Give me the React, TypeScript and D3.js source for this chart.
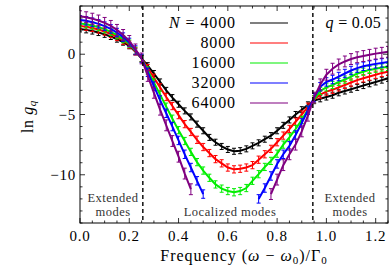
import React from "react";
import * as d3 from "d3";

// sample frequencies (ω − ω0)/Γ0
const freq = [
  0, 0.025, 0.05, 0.075, 0.1, 0.125, 0.15, 0.175, 0.2, 0.225, 0.25, 0.275, 0.3,
  0.325, 0.35, 0.375, 0.4, 0.425, 0.45, 0.475, 0.5, 0.525, 0.55, 0.575, 0.6,
  0.625, 0.65, 0.675, 0.7, 0.725, 0.75, 0.775, 0.8, 0.825, 0.85, 0.875, 0.9,
  0.925, 0.95, 0.975, 1.0, 1.025, 1.05, 1.075, 1.1, 1.125, 1.15, 1.175, 1.2,
  1.225, 1.25,
];

const lnG4000 = [
  2.1, 2.02, 1.92, 1.8, 1.65, 1.47, 1.25, 1.0, 0.7, 0.2, -0.35, -0.95, -1.6,
  -2.3, -3.0, -3.6, -4.15, -4.7, -5.2, -5.8, -6.35, -6.9, -7.3, -7.65, -7.9,
  -8.05, -8.0, -7.85, -7.6, -7.35, -7.05, -6.75, -6.35, -5.9, -5.45, -5.0, -4.6,
  -4.2, -3.85, -3.7, -3.55, -3.4, -3.2, -3.05, -2.9, -2.75, -2.6, -2.45, -2.3,
  -2.15, -2.0,
];
const lnG8000 = [
  2.35, 2.28, 2.18, 2.05, 1.88, 1.68, 1.43, 1.12, 0.8, 0.25, -0.35, -1.15,
  -1.95, -2.75, -3.55, -4.3, -5.05, -5.8, -6.45, -7.1, -7.7, -8.2, -8.7, -9.05,
  -9.4, -9.55, -9.5, -9.4, -9.2, -8.75, -8.3, -7.85, -7.3, -6.75, -6.2, -5.6,
  -5.0, -4.35, -3.75, -3.35, -3.1, -2.95, -2.75, -2.55, -2.35, -2.15, -2.0,
  -1.85, -1.7, -1.55, -1.45,
];
const lnG16000 = [
  2.55, 2.48, 2.38, 2.25, 2.07, 1.85, 1.58, 1.25, 0.88, 0.3, -0.35, -1.35,
  -2.35, -3.35, -4.35, -5.35, -6.3, -7.2, -8.1, -8.95, -9.65, -10.25, -10.8,
  -11.15, -11.35, -11.45, -11.35, -11.1, -10.5, -9.95, -9.35, -8.85, -8.25,
  -7.5, -6.9, -6.2, -5.45, -4.6, -3.75, -3.05, -2.75, -2.55, -2.3, -2.1, -1.85,
  -1.6, -1.45, -1.3, -1.2, -1.1, -1.05,
];
const lnG32000 = [
  2.85, 2.77, 2.66, 2.52, 2.33, 2.1, 1.8, 1.42, 0.98, 0.35, -0.35, -1.5, -2.65,
  -3.8, -4.9, -6.0, -7.15, -8.3, -9.4, -10.5, -11.6, null, null, null, null,
  null, null, null, null, -12.0, -11.1, -10.1, -9.1, -8.3, -7.6, -6.7, -5.7,
  -4.65, -3.6, -2.7, -2.3, -2.1, -1.85, -1.6, -1.35, -1.15, -1.0, -0.9, -0.8,
  -0.72, -0.65,
];
const lnG64000 = [
  3.15, 3.07, 2.95, 2.8, 2.6, 2.35, 2.02, 1.6, 1.1, 0.4, -0.35, -1.8, -3.2,
  -4.6, -5.9, -7.2, -8.5, -9.9, -11.2, null, null, null, null, null, null, null,
  null, null, null, null, null, -11.6, -10.4, -9.2, -8.3, -7.5, -6.4, -5.1,
  -3.6, -2.5, -1.7, -1.2, -0.85, -0.6, -0.4, -0.25, -0.15, -0.05, 0.05, 0.12,
  0.2,
];

const sizes = ["4000", "8000", "16000", "32000", "64000"];
const errors = [0.25, 0.3, 0.3, 0.35, 0.45];
const colors = ["#000000", "#ff0000", "#00ee00", "#0000ff", "#800080"];
const allSeries = [lnG4000, lnG8000, lnG16000, lnG32000, lnG64000];

const xTicks = [0, 0.2, 0.4, 0.6, 0.8, 1.0, 1.2];
const yTicks = [-10, -5, 0];
const boundaries = [0.255, 0.945];

const W = 390;
const H = 276;
const font = "'Liberation Serif', 'DejaVu Serif', serif";

export default function App() {
  const x = d3.scaleLinear().domain([0, 1.25]).range([80, 388]);
  const y = d3.scaleLinear().domain([-14, 4]).range([223, 6]);
  const [x0, x1] = x.range();
  const [y0, y1] = [y(4), y(-14)];

  const line = d3
    .line<number | null>()
    .defined((d) => d != null)
    .x((_, i) => x(freq[i]))
    .y((d) => y(d as number));

  const xMinor = d3.range(0, 1.2501, 0.05);
  const yMinor = d3.range(-14, 4.01, 1);
  const fx = d3.format(".1f");
  const fy = d3.format("d");

  return (
    <svg
      width={W}
      height={H}
      style={{ position: "absolute", left: 0, top: 0, background: "#fff" }}
      fontFamily={font}
    >
      <defs>
        <clipPath id="plot">
          <rect x={x0} y={y0} width={x1 - x0} height={y1 - y0} />
        </clipPath>
      </defs>

      <g clipPath="url(#plot)">
        {allSeries.map((vals, s) => (
          <g key={s}>
            <path
              d={line(vals) || ""}
              fill="none"
              stroke={colors[s]}
              strokeWidth={2}
            />
            {vals.map((v, i) =>
              v == null ? null : (
                <g key={i} stroke={colors[s]} strokeWidth={1}>
                  <line
                    x1={x(freq[i])}
                    x2={x(freq[i])}
                    y1={y(v - errors[s])}
                    y2={y(v + errors[s])}
                  />
                  <line
                    x1={x(freq[i]) - 2}
                    x2={x(freq[i]) + 2}
                    y1={y(v - errors[s])}
                    y2={y(v - errors[s])}
                  />
                  <line
                    x1={x(freq[i]) - 2}
                    x2={x(freq[i]) + 2}
                    y1={y(v + errors[s])}
                    y2={y(v + errors[s])}
                  />
                </g>
              )
            )}
          </g>
        ))}
      </g>

      {boundaries.map((b) => (
        <line
          key={b}
          x1={x(b)}
          x2={x(b)}
          y1={y0}
          y2={y1}
          stroke="#000"
          strokeWidth={1.4}
          strokeDasharray="4,3"
        />
      ))}

      {/* frame */}
      <rect
        x={x0}
        y={y0}
        width={x1 - x0}
        height={y1 - y0}
        fill="none"
        stroke="#000"
        strokeWidth={1}
      />

      {/* ticks */}
      <g stroke="#000" strokeWidth={0.8}>
        {xMinor.map((t) => {
          const major = xTicks.some((m) => Math.abs(m - t) < 1e-6);
          const len = major ? 5 : 2.5;
          return (
            <g key={"x" + t}>
              <line x1={x(t)} x2={x(t)} y1={y1} y2={y1 - len} />
              <line x1={x(t)} x2={x(t)} y1={y0} y2={y0 + len} />
            </g>
          );
        })}
        {yMinor.map((t) => {
          const major = t % 5 === 0;
          const len = major ? 5 : 2.5;
          return (
            <g key={"y" + t}>
              <line x1={x0} x2={x0 + len} y1={y(t)} y2={y(t)} />
              <line x1={x1} x2={x1 - len} y1={y(t)} y2={y(t)} />
            </g>
          );
        })}
      </g>

      {/* tick labels */}
      <g fontSize={15} fill="#000" letterSpacing={0.8}>
        {xTicks.map((t) => (
          <text key={t} x={x(t)} y={y1 + 18} textAnchor="middle">
            {fx(t)}
          </text>
        ))}
        {yTicks.map((t) => (
          <text key={t} x={x0 - 4} y={y(t) + 5} textAnchor="end">
            {fy(t)}
          </text>
        ))}
      </g>

      {/* axis titles */}
      <text
        x={(x0 + x1) / 2 + 10}
        y={261}
        fontSize={16}
        textAnchor="middle"
        letterSpacing={1}
      >
        Frequency (<tspan fontStyle="italic">ω</tspan> − <tspan fontStyle="italic">ω</tspan>
        <tspan fontSize={11} dy={3}>0</tspan>
        <tspan dy={-3}>)/Γ</tspan>
        <tspan fontSize={11} dy={3}>0</tspan>
      </text>
      <text
        transform={`translate(33,${(y0 + y1) / 2 + 2}) rotate(-90)`}
        fontSize={16}
        textAnchor="middle"
        letterSpacing={0.6}
      >
        ln <tspan fontStyle="italic">g</tspan>
        <tspan fontSize={11} fontStyle="italic" dy={3}>q</tspan>
      </text>

      {/* region labels */}
      <g fontSize={12.5} fill="#333" textAnchor="middle" letterSpacing={0.5}>
        <text x={113} y={202}>Extended</text>
        <text x={113} y={216}>modes</text>
        <text x={230} y={216}>Localized modes</text>
        <text x={350} y={202}>Extended</text>
        <text x={350} y={216}>modes</text>
      </g>

      {/* legend */}
      <g fontSize={16} letterSpacing={0.9}>
        {sizes.map((n, i) => (
          <g key={n}>
            <text x={236} y={28 + i * 20} textAnchor="end">
              {i === 0 ? (
                <>
                  <tspan fontStyle="italic">N</tspan>
                  {" = "}
                  {n}
                </>
              ) : (
                n
              )}
            </text>
            <line
              x1={250}
              x2={288}
              y1={23 + i * 20}
              y2={23 + i * 20}
              stroke={colors[i]}
              strokeWidth={1.1}
            />
          </g>
        ))}
        <text x={381} y={28} textAnchor="end" letterSpacing={0.3}>
          <tspan fontStyle="italic">q</tspan> = 0.05
        </text>
      </g>
    </svg>
  );
}
